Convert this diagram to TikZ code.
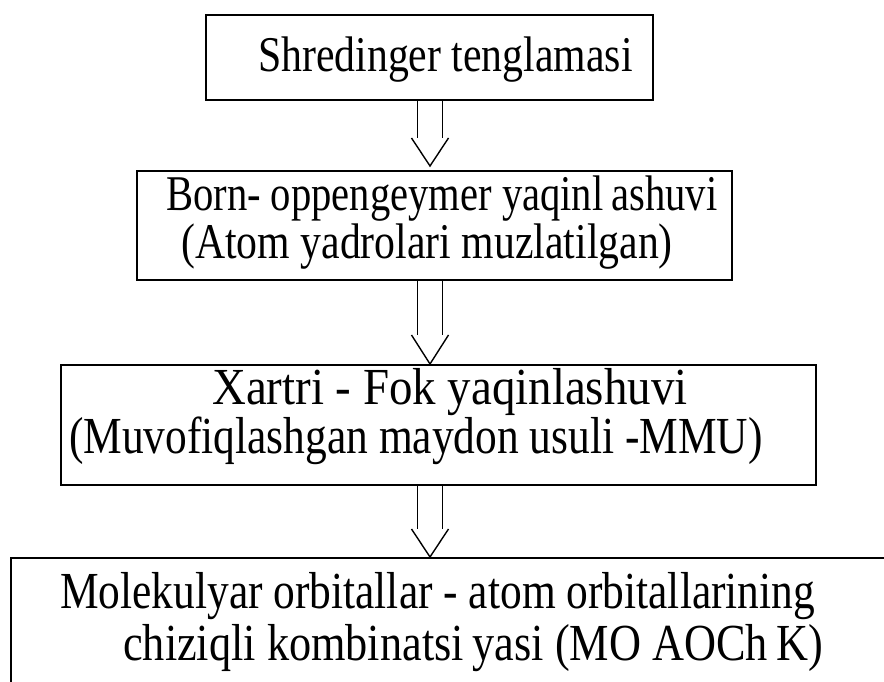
\documentclass[tikz,border=0pt]{standalone}
\usepackage{fontspec}
\setmainfont{Liberation Serif}[FakeStretch=0.835]
\usetikzlibrary{calc}
\tikzset{
  boxnode/.style={draw=black, line width=2pt, rectangle, inner sep=0pt, anchor=north west},
  txt/.style={font=\fontsize{50}{58}\selectfont, inner sep=0pt, anchor=base west},
  txtbig/.style={font=\fontsize{52}{60}\selectfont, inner sep=0pt, anchor=base west},
  hollow/.style={draw=black, line width=1.4pt, line join=miter}
}
\newcommand{\hollowarrow}[4]{% from, to, wing height, tip gap
  \draw[hollow] ($(ax |- #1.south)+(-12.7,0)$) -- ($(ax |- #2.north)+(-12.7,-#3-#4)$);
  \draw[hollow] ($(ax |- #1.south)+(12.7,0)$) -- ($(ax |- #2.north)+(12.7,-#3-#4)$);
  \draw[hollow] ($(ax |- #2.north)+(-18.5,-#3-#4)$) -- ($(ax |- #2.north)+(0,-#4)$) -- ($(ax |- #2.north)+(18.5,-#3-#4)$);
}
\begin{document}
\begin{tikzpicture}[x=1pt,y=-1pt]
\useasboundingbox (0,0) rectangle (884,682);
\clip (0,0) rectangle (884,682);
\coordinate (ax) at (430,0);
% boxes
\node[boxnode, minimum width=447pt, minimum height=85pt] (b1) at (205,14) {};
\node[boxnode, minimum width=595pt, minimum height=109pt] (b2) at (136,170) {};
\node[boxnode, minimum width=755pt, minimum height=120pt] (b3) at (60,364) {};
\node[boxnode, minimum width=900pt, minimum height=200pt] (b4) at (10,557) {};
% texts
\node[txt] (t1) at (258,72) {Shredinger tenglamasi};
\node[txt, xscale=0.972] (t2a) at (166,211) {Born- oppengeymer yaqinl\,ashuvi};
\node[txt] (t2b) at (181,258) {(Atom yadrolari muzlatilgan)};
\node[txtbig, xscale=1.08] (t3a) at (212,404) {Xartri - Fok yaqinlashuvi};
\node[txtbig] (t3b) at (69,453) {(Muvofiqlashgan maydon usuli -MMU)};
\node[txtbig] (t4a) at (60,608) {Molekulyar orbitallar - atom orbitallarining};
\node[txtbig, xscale=1.02] (t4b) at (123,660) {chiziqli kombinatsi\,yasi (MO AOCh\,K)};
% arrows
\hollowarrow{b1}{b2}{28}{4}
\hollowarrow{b2}{b3}{29}{0}
\hollowarrow{b3}{b4}{28}{0}
\end{tikzpicture}
\end{document}
